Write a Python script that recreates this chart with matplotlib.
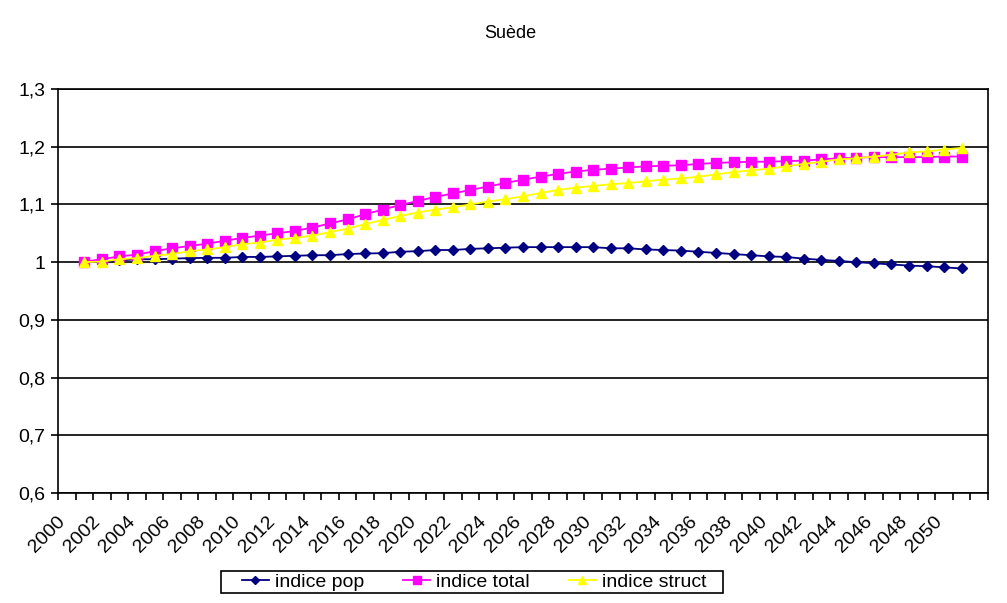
import matplotlib
matplotlib.use("Agg")
import matplotlib.pyplot as plt
from matplotlib.patches import Rectangle
from matplotlib.ticker import FuncFormatter, MultipleLocator

plt.rcParams["font.family"] = ["Liberation Sans", "DejaVu Sans"]

# categories: 2000..2052, data from 2001 to 2051
categories = list(range(2000, 2053))
years = list(range(2001, 2052))

indice_pop = [
    1.000, 1.001, 1.003, 1.005, 1.005, 1.006, 1.007, 1.0075, 1.0075, 1.009,
    1.009, 1.010, 1.011, 1.012, 1.012, 1.014, 1.015, 1.0155, 1.018, 1.019,
    1.021, 1.021, 1.023, 1.024, 1.025, 1.026, 1.026, 1.026, 1.026, 1.026,
    1.024, 1.024, 1.022, 1.021, 1.020, 1.018, 1.016, 1.014, 1.012, 1.010,
    1.009, 1.006, 1.004, 1.002, 1.000, 0.998, 0.996, 0.994, 0.993, 0.991,
    0.989,
]
indice_total = [
    1.001, 1.005, 1.010, 1.013, 1.019, 1.024, 1.028, 1.032, 1.037, 1.042,
    1.046, 1.050, 1.054, 1.060, 1.067, 1.074, 1.083, 1.091, 1.099, 1.106,
    1.113, 1.119, 1.125, 1.131, 1.137, 1.143, 1.148, 1.153, 1.157, 1.160,
    1.162, 1.164, 1.166, 1.167, 1.168, 1.170, 1.172, 1.173, 1.174, 1.174,
    1.175, 1.176, 1.178, 1.180, 1.181, 1.182, 1.182, 1.182, 1.182, 1.183,
    1.183,
]
indice_struct = [
    1.000, 1.001, 1.005, 1.007, 1.011, 1.014, 1.019, 1.022, 1.026, 1.031,
    1.034, 1.039, 1.042, 1.046, 1.052, 1.058, 1.066, 1.073, 1.080, 1.086,
    1.091, 1.095, 1.100, 1.105, 1.109, 1.114, 1.120, 1.125, 1.129, 1.132,
    1.135, 1.137, 1.140, 1.143, 1.145, 1.148, 1.152, 1.156, 1.159, 1.162,
    1.166, 1.170, 1.174, 1.178, 1.180, 1.183, 1.186, 1.190, 1.192, 1.195,
    1.198,
]

W, H = 1007, 603
fig = plt.figure(figsize=(W / 100, H / 100), dpi=100)
fig.patch.set_facecolor("white")
ax = fig.add_axes([58 / W, (H - 493) / H, 930 / W, 404 / H])

pos = [categories.index(y) for y in years]
ax.plot(pos, indice_pop, color="#000080", lw=1.3, marker="D", ms=5.5,
        label="indice pop")
ax.plot(pos, indice_total, color="#FF00FF", lw=1.3, marker="s", ms=6.5,
        label="indice total")
ax.plot(pos, indice_struct, color="#FFFF00", lw=1.3, marker="^", ms=7.5,
        label="indice struct")

ax.set_ylim(0.6, 1.3)
ax.yaxis.set_major_locator(MultipleLocator(0.1))
ax.yaxis.set_major_formatter(
    FuncFormatter(lambda v, p: f"{v:.1f}".replace(".", ",").replace(",0", "")))
ax.grid(axis="y", color="black", lw=1.2)
ax.set_axisbelow(True)

ax.set_xlim(-0.5, len(categories) - 0.5)
ax.set_xticks([i - 0.5 for i in range(len(categories) + 1)])
ax.set_xticklabels([])
for i, c in enumerate(categories):
    if c % 2 == 0 and c <= 2050:
        ax.text(i - 0.25, 0.6 - 0.045, str(c), rotation=45, rotation_mode="anchor",
                ha="right", va="center", fontsize=14)

ax.tick_params(axis="both", direction="out", length=5, width=1.2, color="black")
ax.tick_params(axis="y", labelsize=14, pad=4)
for s in ax.spines.values():
    s.set_color("black")
    s.set_linewidth(1.2)

fig.text(510 / W, 1 - 33 / H, "Suède", ha="center", va="center", fontsize=13)

# legend frame drawn separately so its box matches the reference
fig.add_artist(Rectangle((221 / W, 1 - 593 / H), 502 / W, 22 / H,
                         transform=fig.transFigure, fill=False,
                         edgecolor="black", lw=1.2))
leg = fig.legend(loc="center", bbox_to_anchor=(474 / W, 1 - 582 / H), ncol=3,
                 frameon=False, fontsize=14, handlelength=1.4,
                 columnspacing=2.0, handletextpad=0.3, borderpad=0.0,
                 markerscale=0.8)

fig.savefig("out.png", dpi=100, facecolor="white")
